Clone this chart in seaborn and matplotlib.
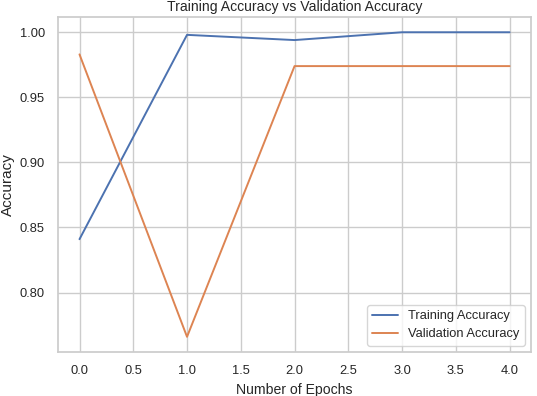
import numpy as np
import pandas as pd
import matplotlib
matplotlib.use("Agg")
import matplotlib.pyplot as plt
import seaborn as sns

epochs = [0, 1, 2, 3, 4]
train_acc = [0.841, 0.998, 0.994, 1.000, 1.000]
val_acc = [0.983, 0.766, 0.974, 0.974, 0.974]

sns.set_theme(style="whitegrid", context="notebook", font_scale=0.84)
plt.rcParams['font.family'] = ['Liberation Sans', 'DejaVu Sans']

df = pd.DataFrame({
    "epoch": epochs * 2,
    "accuracy": train_acc + val_acc,
    "series": ["Training Accuracy"] * len(epochs) + ["Validation Accuracy"] * len(epochs),
})

fig, ax = plt.subplots(figsize=(5.37, 3.96), dpi=100)
fig.subplots_adjust(left=0.108, right=0.989, bottom=0.111, top=0.957)
sns.lineplot(data=df, x="epoch", y="accuracy", hue="series", ax=ax, linewidth=1.4)
ax.set_xticks(np.arange(0, 4.01, 0.5))
ax.set_xlabel("Number of Epochs")
ax.set_ylabel("Accuracy", fontsize=11, labelpad=3)
ax.set_title("Training Accuracy vs Validation Accuracy", pad=4)
ax.legend(title=None, loc="lower right")
fig.savefig("out.png", dpi=100)
